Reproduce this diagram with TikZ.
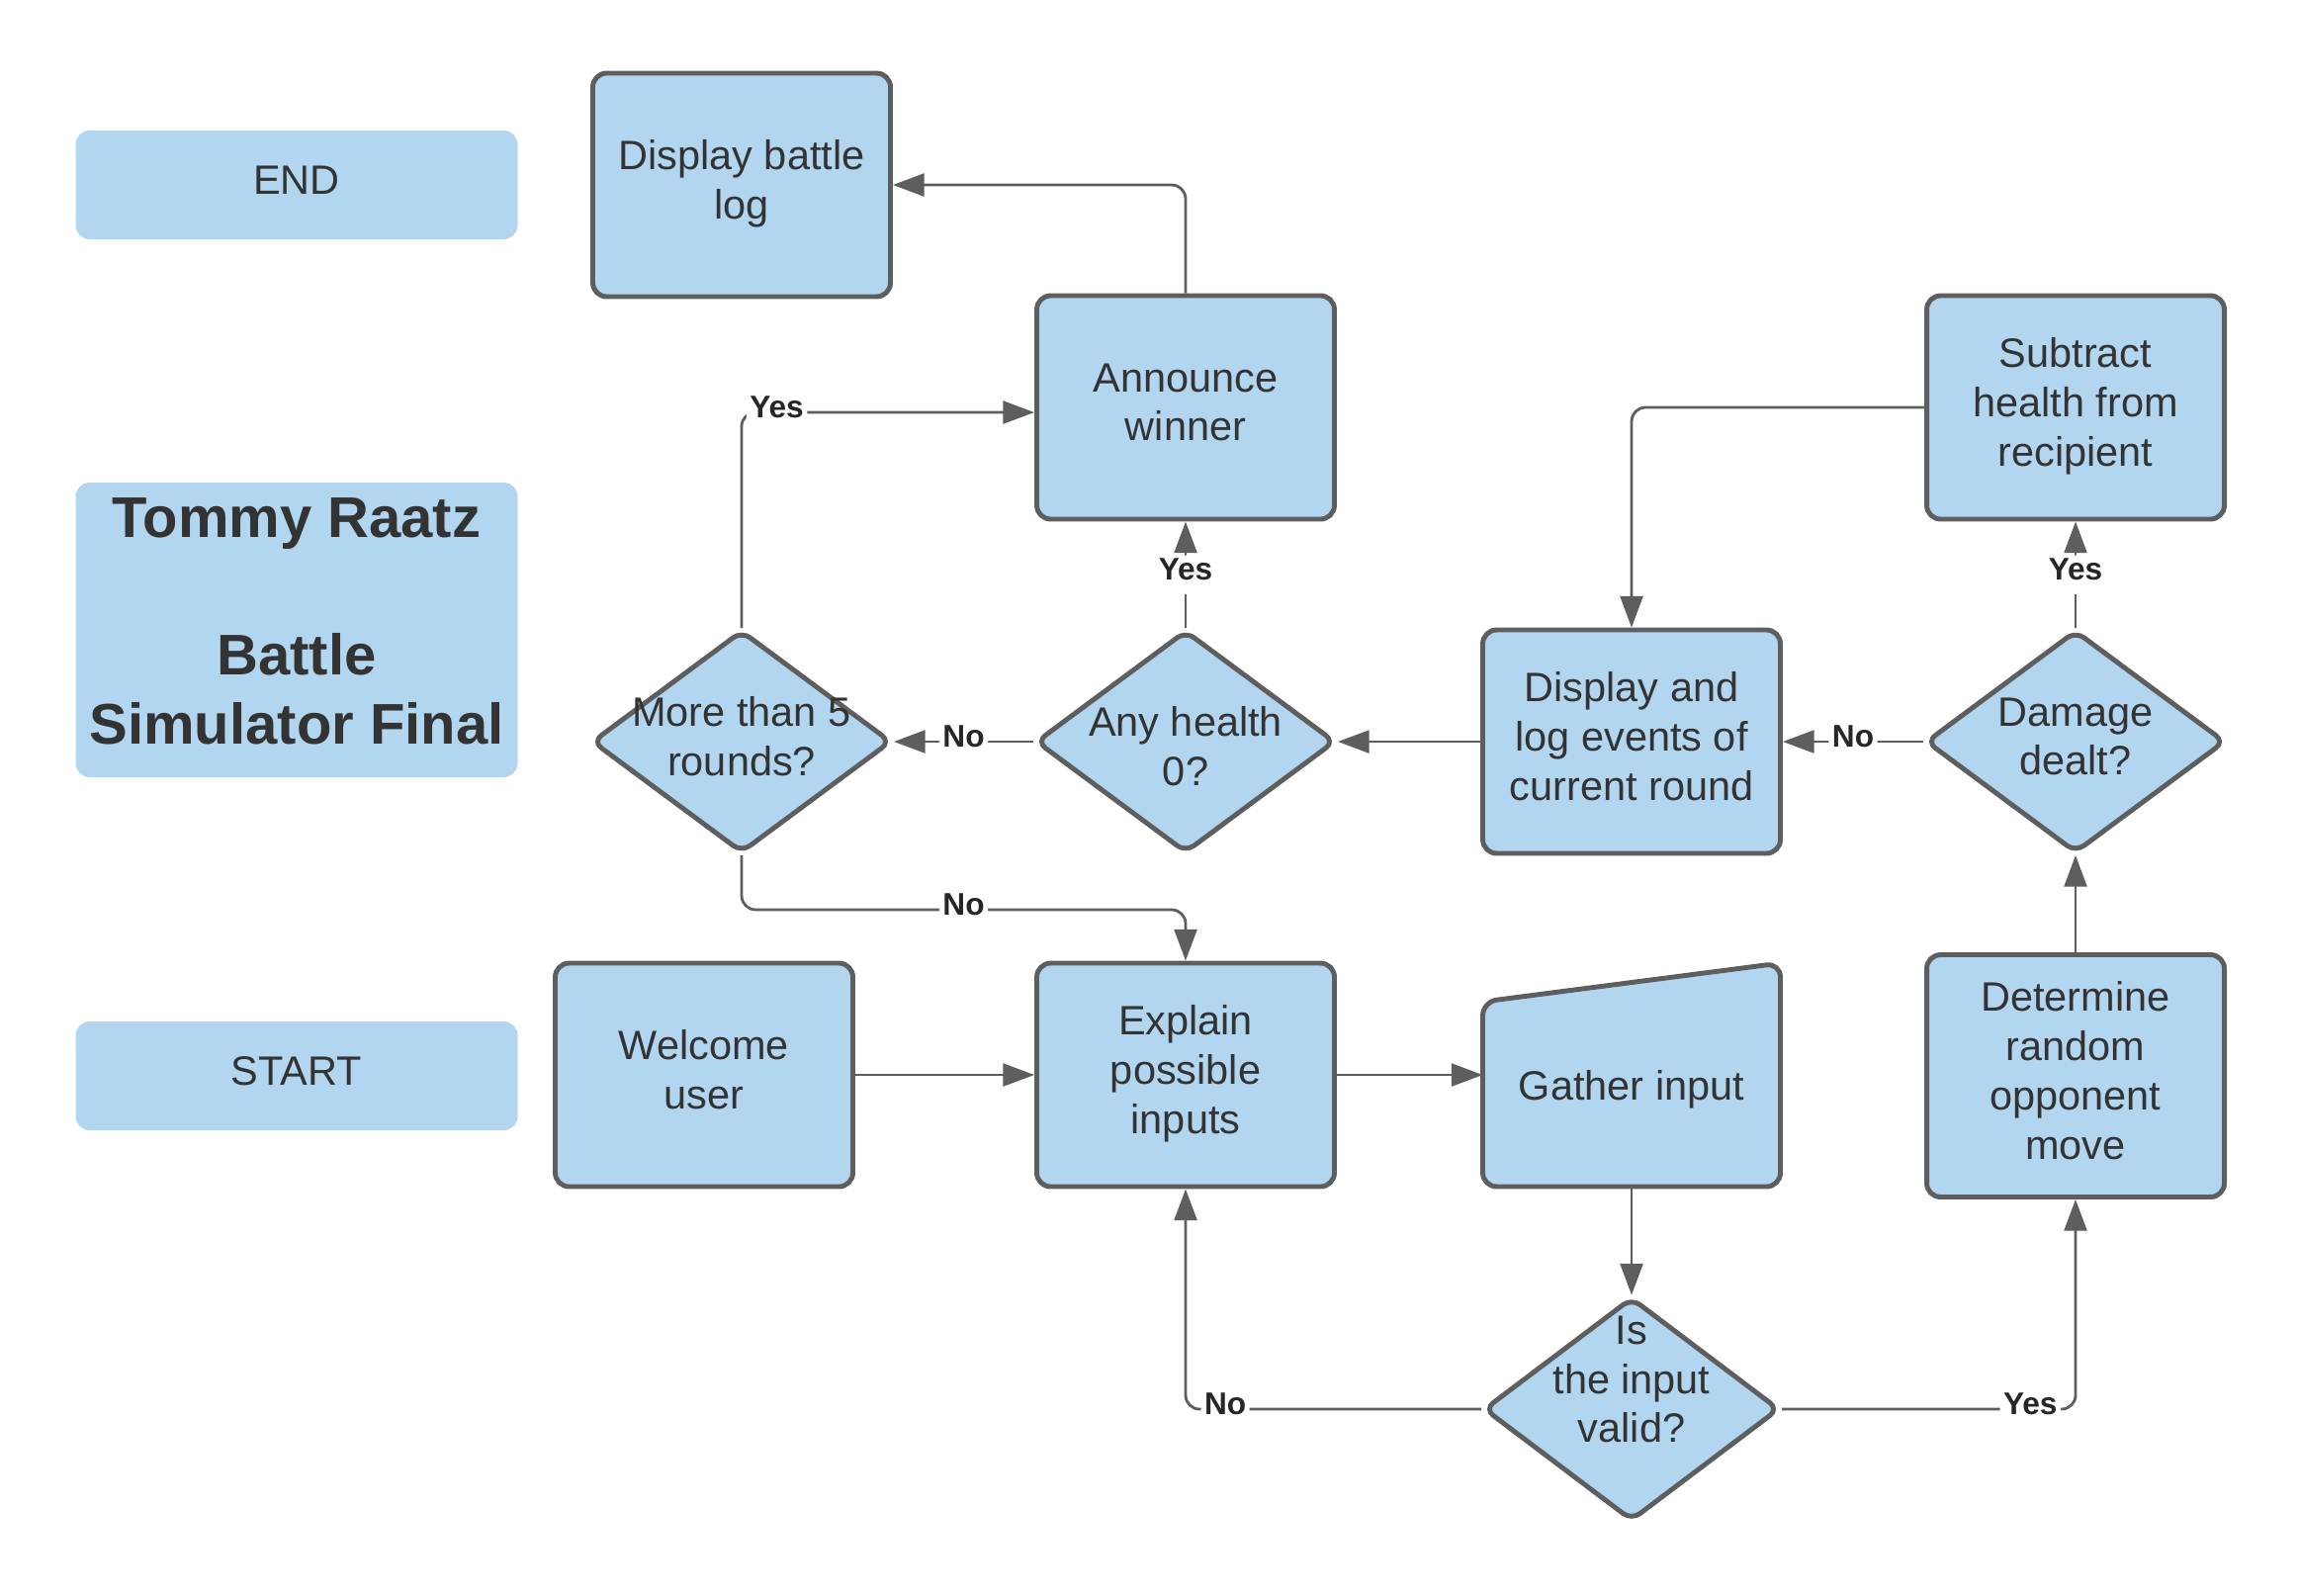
\documentclass[tikz,border=0pt]{standalone}
\usepackage{fontspec}
\setmainfont{Liberation Sans}
\usetikzlibrary{shapes.geometric,arrows.meta}

\definecolor{boxblue}{HTML}{B2D6F0}
\definecolor{linegray}{HTML}{5E5E5E}
\definecolor{textgray}{HTML}{333333}

\begin{document}
\begin{tikzpicture}[
    every node/.style={text=textgray, font=\fontsize{11.8}{14.2}\selectfont,
      align=center, text depth=3pt},
    process/.style={rectangle, rounded corners=4pt, draw=linegray, line width=1.4pt,
      fill=boxblue, minimum width=3.01cm, minimum height=2.26cm, inner sep=0pt},
    decision/.style={diamond, rounded corners=3pt, draw=linegray, line width=1.4pt,
      fill=boxblue, minimum width=3.03cm, minimum height=2.25cm, inner sep=0pt},
    terminal/.style={rectangle, rounded corners=4pt, fill=boxblue,
      minimum width=4.47cm, minimum height=1.1cm},
    flow/.style={draw=linegray, line width=0.8pt, rounded corners=4pt,
      -{Triangle[length=9pt, width=6.5pt]}},
    answer/.style={fill=white, inner sep=1pt, text=black!85,
      font=\bfseries\fontsize{9}{10}\selectfont}
  ]
  \useasboundingbox (0,0) rectangle (23.25,-16.13);

  % left column
  \node[terminal] (stop) at (3.00,-1.87) {END};
  \node[terminal, minimum height=2.98cm, text depth=5pt,
    font=\bfseries\fontsize{16.5}{19.8}\selectfont]
    (title) at (3.00,-6.37) {Tommy Raatz\\[19.8pt]Battle\\Simulator Final};
  \node[terminal] (start) at (3.00,-10.88) {START};

  % steps
  \node[process] (log) at (7.50,-1.87) {Display battle\\log};
  \node[process] (announce) at (11.99,-4.12) {Announce\\winner};
  \node[process] (subtract) at (20.99,-4.12) {Subtract\\health from\\recipient};
  \node[process] (display) at (16.50,-7.50) {Display and\\log events of\\current round};
  \node[process] (welcome) at (7.12,-10.87) {Welcome\\user};
  \node[process] (explain) at (11.99,-10.87) {Explain\\possible\\inputs};
  \node[process, minimum height=2.45cm] (determine) at (20.99,-10.88)
    {Determine\\random\\opponent\\move};

  % manual input
  \node[process, draw=none, fill=none, outer sep=0pt] (gather) at (16.50,-10.87) {};
  \draw[linegray, line width=1.4pt, fill=boxblue, rounded corners=4pt]
    (gather.south west) -- ([yshift=-0.39cm]gather.north west)
    -- (gather.north east) -- (gather.south east) -- cycle;
  \node (gathertxt) at (16.50,-11.03) {Gather input};

  % decisions
  \node[decision, label={center:{More than 5\\rounds?}}] (rounds) at (7.50,-7.50) {};
  \node[decision, label={[yshift=-1mm]center:{Any health\\0?}}] (health) at (11.99,-7.50) {};
  \node[decision, label={center:{Damage\\dealt?}}] (damage) at (20.99,-7.50) {};
  \node[decision, minimum width=2.99cm, minimum height=2.26cm,
    label={[yshift=2.5mm]center:{Is\\the input\\valid?}}] (valid) at (16.50,-14.25) {};

  % connectors
  \draw[flow] (welcome.east) -- (explain.west);
  \draw[flow] (explain.east) -- (gather.west);
  \draw[flow] (gather.south) -- (valid.north);
  \draw[flow] (valid.west) -| node[answer, pos=0.433] {No} (explain.south);
  \draw[flow] (valid.east) -| node[answer, pos=0.423] {Yes} (determine.south);
  \draw[flow] (determine.north) -- (damage.south);
  \draw[flow] (damage.north) -- node[answer] {Yes} (subtract.south);
  \draw[flow] (damage.west) -- node[answer] {No} (display.east);
  \draw[flow] (subtract.west) -| (display.north);
  \draw[flow] (display.west) -- (health.east);
  \draw[flow] (health.north) -- node[answer] {Yes} (announce.south);
  \draw[flow] (health.west) -- node[answer] {No} (rounds.east);
  \draw[flow] (rounds.north) |- node[answer, pos=0.56] {Yes} ([yshift=-0.05cm]announce.west);
  \draw[flow] (rounds.south) -- ++(0,-0.55) -| node[answer, pos=0.25] {No} (explain.north);
  \draw[flow] (announce.north) |- (log.east);
\end{tikzpicture}
\end{document}
